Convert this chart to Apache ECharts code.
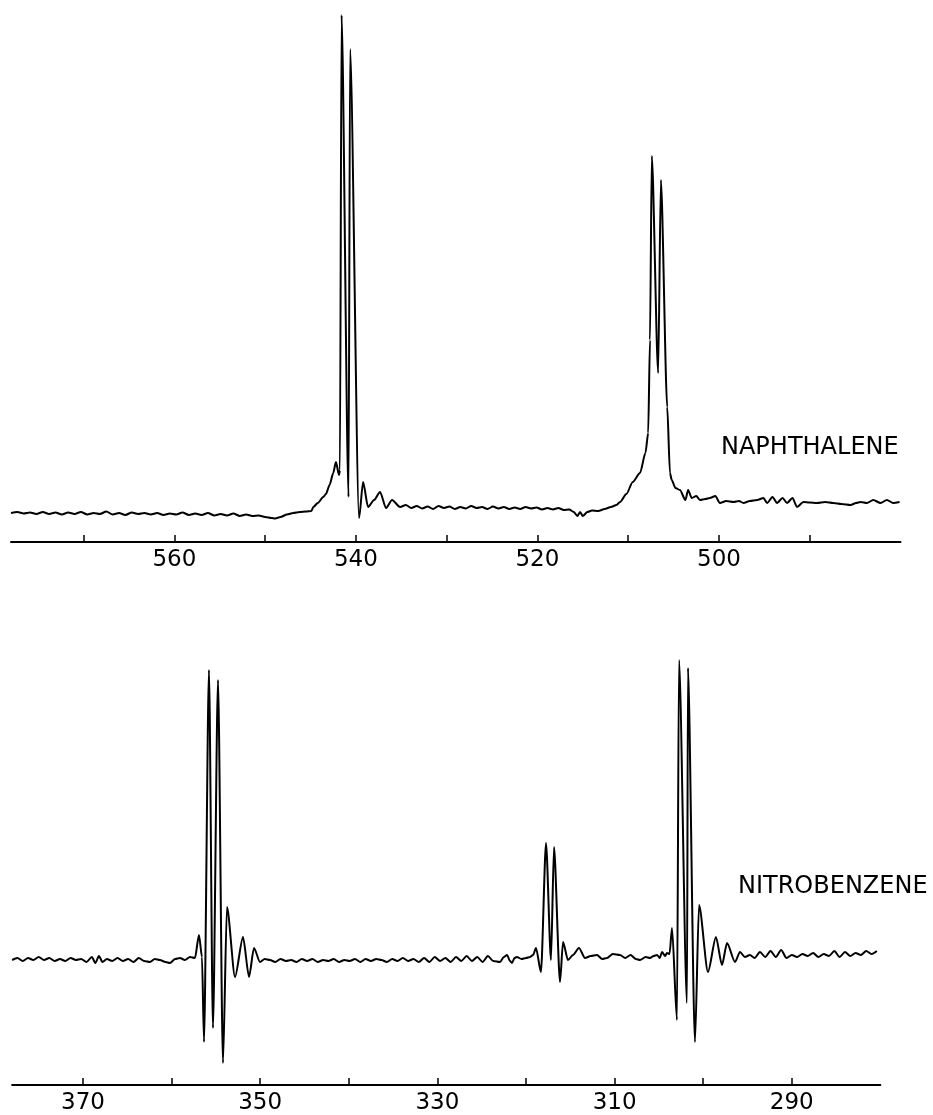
<!DOCTYPE html>
<html>
<head>
<meta charset="utf-8">
<script src="https://cdn.jsdelivr.net/npm/echarts@6/dist/echarts.min.js"></script>
<style>
html,body{margin:0;padding:0;background:#fff;}
#chart{width:933px;height:1115px;}
</style>
</head>
<body>
<div id="chart"></div>
<script>
// Naphthalene spectrum: chemical shift (x) and relative intensity (y)
var naphShift = [578.0,577.3,576.6,575.9,575.2,574.5,573.8,573.1,572.4,571.7,571.0,570.3,569.6,568.9,568.2,567.5,566.8,566.1,565.4,564.7,564.0,563.3,562.6,561.9,561.2,560.5,559.8,559.1,558.4,557.7,557.0,556.3,555.6,554.9,554.2,553.5,552.8,552.1,551.4,550.7,550.0,549.3,548.9,548.3,547.6,546.9,546.2,545.5,544.9,544.7,544.2,543.6,543.3,542.9,542.5,542.2,541.86,541.76,541.58,540.81,540.64,539.65,539.21,538.66,538.0,537.34,536.68,536.02,535.13,534.5,533.9,533.3,532.7,532.1,531.5,530.9,530.3,529.7,529.1,528.5,527.9,527.3,526.7,526.1,525.5,524.9,524.3,523.7,523.1,522.5,521.9,521.3,520.7,520.1,519.5,518.9,518.3,517.7,517.1,516.5,516.0,515.6,515.3,515.0,514.5,514.0,513.3,512.6,511.9,511.3,510.9,510.2,509.5,508.7,508.1,507.8,507.6,507.4,506.7,506.4,505.7,505.4,505.2,504.8,504.3,503.7,503.4,503.0,502.5,502.1,501.5,501.0,500.4,499.9,499.2,498.4,497.8,497.3,496.6,495.8,495.1,494.7,494.1,493.6,493.0,492.5,491.9,491.4,490.7,490.0,489.2,488.3,487.4,486.5,485.5,484.9,484.4,483.7,483.0,482.2,481.5,480.8,480.1];
var naphIntensity = [29,30,28.5,29.5,28,30,28,29.5,27.5,29.5,28,30,27.5,29,28,30.5,27.5,29,27,29.5,28,29,27.5,29,27,28.5,27.5,29.5,27,28.5,27,29,26.5,28,26.5,28.5,26,27.5,26,26.5,25,24,23.5,25,27.5,29,30,30.5,31,35,39,45,48,57,69,80,67,72,527,45,493,24,60,35,42,50,34,42,35,37,34,36,33.5,35.5,33,36,34,35.5,33,35,33.5,36,34,35,33,35.5,33.5,35,33,34.5,33,35,33.5,34.5,32.5,34,32.5,34,32,32.5,30,26,30,26,30,31.5,31,33,35,37,40,48,60,69,89,109,202,386,169,362,135,69,62,54,52,42,52,44,46,42,43,44,46,39,41,40,41,39,41,42,44,39,45,39,44,39,44,35,40,39.5,39,40,39,38,37,39,40,39,42,39,42,39,40];

// Nitrobenzene spectrum
var nitroShift = [378.0,377.4,376.8,376.2,375.6,375.0,374.4,373.8,373.2,372.6,372.0,371.4,370.8,370.2,369.6,369.0,368.6,368.2,367.8,367.3,366.7,366.1,365.5,364.9,364.3,363.7,363.1,362.44,361.9,361.31,360.7,360.18,359.6,359.05,358.5,357.92,357.36,356.91,356.57,356.34,355.78,355.33,354.76,354.20,353.75,352.84,351.94,351.26,350.70,350.02,349.5,348.89,348.3,347.7,347.1,346.5,345.9,345.3,344.7,344.1,343.5,342.9,342.3,341.7,341.1,340.5,339.9,339.3,338.7,338.1,337.5,336.9,336.3,335.7,335.1,334.5,333.9,333.3,332.7,332.1,331.5,330.9,330.3,329.7,329.1,328.5,327.9,327.3,326.7,326.1,325.5,324.9,324.3,323.7,322.93,322.5,322.14,321.8,321.58,321.3,321.02,320.5,320.0,319.55,319.2,318.87,318.31,317.74,317.18,316.84,316.16,315.82,315.26,314.70,314.02,313.34,312.7,311.99,311.4,310.86,310.2,309.39,308.8,308.2,307.6,307.13,306.5,306.00,305.6,305.21,304.9,304.65,304.3,304.09,303.8,303.52,302.96,302.73,301.83,301.72,300.93,300.47,299.46,298.56,297.88,297.31,296.41,295.85,295.3,294.72,294.2,293.59,293.0,292.4,291.8,291.2,290.6,290.0,289.4,288.8,288.2,287.6,287.0,286.4,285.8,285.2,284.6,284.0,283.4,282.8,282.2,281.6,281.0,280.4];
var nitroIntensity = [125,127,124,127,125,128,125,127,124,126,124,127,125,126,123,128,122,129,123,126,124,127,124,126,123,127,124,123,126,125,123,122,126,127,125,128,127,150,128,43,415,57,405,22,178,108,148,108,137,123,126,125,123,126,124,125,123,126,124,126,123,125,124,126,123,125,124,126,123,126,124,126,125,123,126,124,127,124,126,123,127,123,128,124,127,123,128,124,129,124,128,123,129,124,123,128,130,124,122,127,128,126,127,128,130,137,113,242,125,238,103,143,125,130,137,127,129,130,126,127,131,130,127,130,126,125,128,127,129,130,127,133,129,132,131,157,65,425,82,417,43,180,113,148,120,142,123,133,128,130,127,133,128,134,128,135,127,130,128,131,129,132,128,131,129,134,128,133,129,132,130,134,131,134];

// Axis ticks and labels
var naphTicks = [490,500,510,520,530,540,550,560,570];
var naphLabels = [500,520,540,560];
var nitroTicks = [290,300,310,320,330,340,350,360,370];
var nitroLabels = [290,310,330,350,370];

function zip(xs, ys){ var out=[]; for(var i=0;i<xs.length;i++){ out.push([xs[i], ys[i]]); } return out; }

var font = 'DejaVu Sans';
function makeX(gridIndex, min, max, ticks, labels){
  return {
    type:'value', gridIndex:gridIndex, min:min, max:max, inverse:true,
    axisLine:{show:true, onZero:false, lineStyle:{color:'#000', width:2}},
    axisTick:{show:true, inside:true, length:7, customValues:ticks, lineStyle:{color:'#000', width:1.5}},
    axisLabel:{show:true, customValues:labels, color:'#000', fontSize:23, fontFamily:font, margin:7},
    splitLine:{show:false}
  };
}

var chart = echarts.init(document.getElementById('chart'), null, {renderer:'canvas'});
chart.setOption({
  animation:false,
  backgroundColor:'#fff',
  grid:[
    {left:11, right:32.5, top:10, height:532},
    {left:12.1, right:52.6, top:640, height:445}
  ],
  xAxis:[ makeX(0, 480, 578, naphTicks, naphLabels), makeX(1, 280, 378, nitroTicks, nitroLabels) ],
  yAxis:[
    {type:'value', gridIndex:0, min:0, max:532, show:false},
    {type:'value', gridIndex:1, min:0, max:445, show:false}
  ],
  series:[
    {type:'line', xAxisIndex:0, yAxisIndex:0, data:zip(naphShift, naphIntensity), showSymbol:false, smooth:0.25, smoothMonotone:'x', lineStyle:{color:'#000', width:2}},
    {type:'line', xAxisIndex:1, yAxisIndex:1, data:zip(nitroShift, nitroIntensity), showSymbol:false, smooth:0.25, smoothMonotone:'x', lineStyle:{color:'#000', width:2}}
  ],
  graphic:[
    {type:'text', left:721, top:436, style:{text:'NAPHTHALENE', font:'24px "DejaVu Sans"', fill:'#000'}},
    {type:'text', left:738, top:875, style:{text:'NITROBENZENE', font:'24px "DejaVu Sans"', fill:'#000'}}
  ]
});
</script>
</body>
</html>
